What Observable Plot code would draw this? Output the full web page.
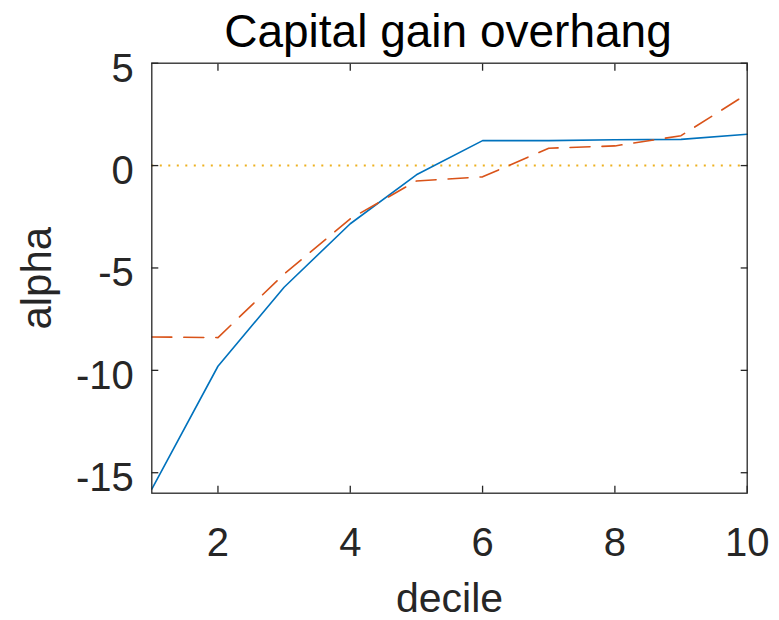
<!DOCTYPE html>
<html>
<head>
<meta charset="utf-8">
<script src="https://cdn.jsdelivr.net/npm/d3@7"></script>
<script src="https://cdn.jsdelivr.net/npm/@observablehq/plot@0.6"></script>
<style>
html, body { margin: 0; padding: 0; background: #fff; overflow: hidden; }
#title {
  box-sizing: border-box; height: 50px; line-height: 50px;
  margin-left: 150px; width: 596px; text-align: center; white-space: nowrap;
  font-family: "Liberation Sans", Arial, Helvetica, sans-serif; font-size: 46px; color: #000;
}
#title span { position: relative; top: 6px; }
#chart svg { display: block; }
</style>
</head>
<body>
<div id="title"><span></span></div>
<div id="chart"></div>
<script>
// ---- data ----
const titleText = "Capital gain overhang";
const xLabel = "decile";
const yLabel = "alpha";
const deciles = [1, 2, 3, 4, 5, 6, 7, 8, 9, 10];
const alphaSolid = [-15.8, -9.8, -5.94, -2.84, -0.45, 1.22, 1.22, 1.26, 1.28, 1.53];
const alphaDashed = [-8.37, -8.4, -5.3, -2.6, -0.75, -0.55, 0.85, 0.96, 1.46, 3.5];
const xTicks = [2, 4, 6, 8, 10];
const yTicks = [-15, -10, -5, 0, 5];
const zeroLine = [0];

document.querySelector("#title span").textContent = titleText;

const rows = deciles.map((d, i) => ({decile: d, solid: alphaSolid[i], dashed: alphaDashed[i]}));

const ink = "#262626";
const plain = d => String(d);   // hyphen-minus, as in the reference
const chart = Plot.plot({
  width: 779,
  height: 570,
  marginTop: 12.7,
  marginBottom: 127.3,
  marginLeft: 151.3,
  marginRight: 32.3,
  style: {
    fontFamily: "'Liberation Sans', Arial, Helvetica, sans-serif",
    fontSize: "40px",
    color: ink,
    background: "white",
    overflow: "visible"
  },
  x: {domain: [1, 10]},
  y: {domain: [-16, 5]},
  marks: [
    Plot.ruleY(zeroLine, {stroke: "#EDB120", strokeWidth: 2, strokeDasharray: "2,6.5"}),
    Plot.line(rows, {x: "decile", y: "solid", stroke: "#0072BD", strokeWidth: 1.6}),
    Plot.line(rows, {x: "decile", y: "dashed", stroke: "#D95319", strokeWidth: 1.6, strokeDasharray: "20,12"}),
    Plot.frame({stroke: ink, strokeWidth: 1.3}),
    // inward ticks on all four sides
    Plot.axisX({anchor: "bottom", ticks: xTicks, tickSize: -7, tickFormat: () => "", label: null, strokeWidth: 1.3}),
    Plot.axisX({anchor: "top", ticks: xTicks, tickSize: -7, tickFormat: () => "", label: null, strokeWidth: 1.3}),
    Plot.axisY({anchor: "left", ticks: yTicks, tickSize: -7, tickFormat: () => "", label: null, strokeWidth: 1.3}),
    Plot.axisY({anchor: "right", ticks: yTicks, tickSize: -7, tickFormat: () => "", label: null, strokeWidth: 1.3}),
    // tick labels
    Plot.axisX({anchor: "bottom", ticks: xTicks, tickSize: 0, tickPadding: 34, tickFormat: plain, label: null, fill: ink}),
    Plot.axisY({anchor: "left", ticks: yTicks, tickSize: 0, tickPadding: 18, dy: 5.5, tickFormat: plain, label: null, fill: ink}),
    // axis titles
    Plot.text([xLabel], {text: d => d, frameAnchor: "bottom", textAnchor: "middle", dy: 118.5, lineAnchor: "bottom", fontSize: 41, fill: ink}),
    Plot.text([yLabel], {text: d => d, frameAnchor: "left", textAnchor: "middle", rotate: -90, dx: -101.3, lineAnchor: "bottom", fontSize: 42, fill: ink})
  ]
});
document.getElementById("chart").appendChild(chart);
</script>
</body>
</html>
